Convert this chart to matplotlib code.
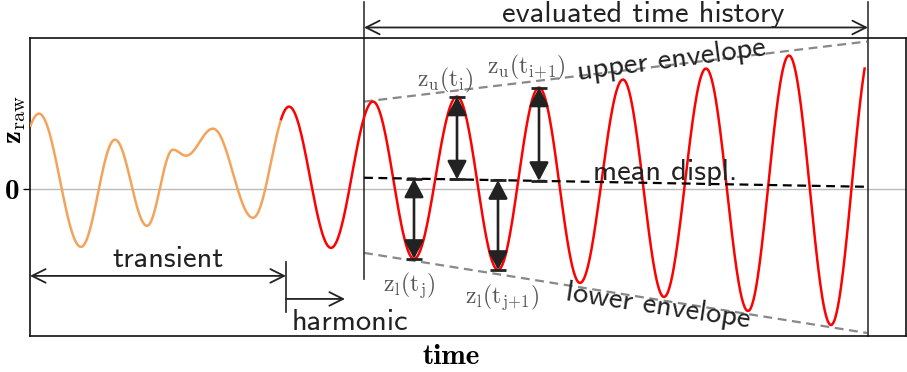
import numpy as np
import matplotlib
matplotlib.use("Agg")
import matplotlib.pyplot as plt
from matplotlib.patches import FancyArrowPatch

plt.rcParams["mathtext.fontset"] = "cm"
plt.rcParams["axes.unicode_minus"] = False

# Turning points of the raw displacement signal (time, z_raw)
peak_times = [-33, 9, 51, 85, 117, 143, 156, 183, 223,
              259, 301, 343, 384, 427, 468, 509, 550, 593, 634, 676, 718, 759, 801, 843]
peak_values = [-50, 75, -58, 49, -37, 39, 33, 60, -29,
               82, -59, 87, -70, 92, -81, 101, -94, 109, -108, 120, -122, 133, -136, 147]
t_start, t_end = 0, 835
t_harmonic = 251          # colour switch: transient -> harmonic response
t_marker = 256            # start of the "harmonic" annotation

# Evaluation window
t_eval_start, t_eval_end = 334, 838

# Envelopes and mean displacement across the evaluation window (time, value)
upper_env_t = [334, 837]
upper_env_z = [87, 147]
lower_env_t = [334, 837]
lower_env_z = [-64, -144]
mean_t = [334, 835]
mean_z = [11, 2]

# Extrema that are measured against the mean line
upper_pick_t = [427, 509]
lower_pick_t = [384, 468]
upper_pick_labels = [r"$\mathrm{z_u(t_i)}$", r"$\mathrm{z_u(t_{i\!+\!1})}$"]
lower_pick_labels = [r"$\mathrm{z_l(t_j)}$", r"$\mathrm{z_l(t_{j\!+\!1})}$"]
upper_label_pos = [(415, 108), (496, 121)]
lower_label_pos = [(379, -96), (472, -108)]


def signal(t_pts, z_pts, n=60):
    ts, zs = [], []
    for (t0, z0), (t1, z1) in zip(zip(t_pts[:-1], z_pts[:-1]), zip(t_pts[1:], z_pts[1:])):
        s = np.linspace(0, 1, n, endpoint=False)
        ts.append(t0 + (t1 - t0) * s)
        zs.append(z0 + (z1 - z0) * (1 - np.cos(np.pi * s)) / 2)
    ts.append([t_pts[-1]])
    zs.append([z_pts[-1]])
    return np.concatenate(ts), np.concatenate(zs)


t, z = signal(peak_times, peak_values)
keep = (t >= t_start) & (t <= t_end)
t, z = t[keep], z[keep]

fig = plt.figure(figsize=(9.07, 3.72), dpi=100)
W, H = 907, 372
ax = fig.add_axes([30 / W, (H - 336) / H, 876 / W, 298 / H])
ax.set_xlim(0, 876)
ax.set_ylim(-147, 150.5)
for sp in ax.spines.values():
    sp.set_linewidth(1.2)
    sp.set_color("#111111")

sans = "cmss10"
dark = "#222222"
gray_txt = "#555555"
fs_sans = 22

# zero line
ax.axhline(0, color="#bbbbbb", lw=1.0, zorder=1)

# raw signal
m1 = t <= t_harmonic
m2 = t >= t_harmonic
ax.plot(t[m1], z[m1], color="#F4A35A", lw=1.8, zorder=3)
ax.plot(t[m2], z[m2], color="#FF0000", lw=1.8, zorder=3)

# envelopes and mean displacement
ax.plot(upper_env_t, upper_env_z, color="#888888", lw=1.6, ls=(0, (4, 2.5)), zorder=2)
ax.plot(lower_env_t, lower_env_z, color="#888888", lw=1.6, ls=(0, (4, 2.5)), zorder=2)
ax.plot(mean_t, mean_z, color="black", lw=1.6, ls=(0, (4, 2.5)), zorder=4)


def mean_at(tt):
    return np.interp(tt, mean_t, mean_z)


def z_at(tt):
    return np.interp(tt, t, z)


for tt in upper_pick_t + lower_pick_t:
    z_ext = z_at(tt)
    z_m = mean_at(tt)
    arr = FancyArrowPatch((tt, z_ext), (tt, z_m),
                          arrowstyle="<|-|>,head_length=0.8,head_width=0.42",
                          mutation_scale=14, color=dark, lw=1.9,
                          shrinkA=0, shrinkB=0, zorder=5)
    ax.add_patch(arr)
    ax.plot([tt, tt], [z_ext, z_m], ls="none", marker="_", ms=11,
            mew=2.0, color=dark, zorder=6)

for (x, y), lab in zip(upper_label_pos + lower_label_pos,
                       upper_pick_labels + lower_pick_labels):
    ax.text(x, y, lab, fontsize=17, color=gray_txt, ha="center", va="center")

# evaluation window boundaries
ax.plot([t_eval_start, t_eval_start], [186, -90], color="#333333", lw=1.2, clip_on=False, zorder=2)
ax.plot([t_eval_end, t_eval_end], [186, -147], color="#333333", lw=1.2, clip_on=False, zorder=2)
ax.add_patch(FancyArrowPatch((t_eval_start, 161), (t_eval_end, 161),
                             arrowstyle="<->,head_length=0.7,head_width=0.35",
                             mutation_scale=14, color=dark, lw=1.3,
                             shrinkA=0, shrinkB=0, clip_on=False))
ax.text(613, 166, "evaluated time history", family=sans, fontsize=fs_sans,
        color=dark, ha="center", va="baseline", clip_on=False)

# transient / harmonic annotation
ax.add_patch(FancyArrowPatch((0, -87), (t_marker, -87),
                             arrowstyle="<->,head_length=0.7,head_width=0.35",
                             mutation_scale=14, color=dark, lw=1.3,
                             shrinkA=0, shrinkB=0))
ax.plot([t_marker, t_marker], [-73, -123], color=dark, lw=1.2)
ax.add_patch(FancyArrowPatch((t_marker, -110), (315, -110),
                             arrowstyle="->,head_length=0.7,head_width=0.35",
                             mutation_scale=14, color=dark, lw=1.3,
                             shrinkA=0, shrinkB=0))
ax.text(138, -78, "transient", family=sans, fontsize=fs_sans, color=dark,
        ha="center", va="baseline")
ax.text(319.5, -141, "harmonic", family=sans, fontsize=fs_sans, color=dark,
        ha="center", va="baseline")
ax.text(635, 9, "mean displ.", family=sans, fontsize=fs_sans, color=dark,
        ha="center", va="baseline", zorder=4)
ax.text(642, 121, "upper envelope", family=sans, fontsize=fs_sans, color=dark,
        ha="center", va="baseline", rotation=7.5, rotation_mode="anchor")
ax.text(627, -125, "lower envelope", family=sans, fontsize=fs_sans, color=dark,
        ha="center", va="baseline", rotation=-8.5, rotation_mode="anchor")

# axes labels and ticks
ax.set_xticks([])
ax.set_yticks([0])
ax.set_yticklabels(["0"], family="cmb10", fontsize=21)
ax.tick_params(axis="y", length=5, width=1.0, pad=3)
fig.text(21 / W, 1 - 120 / H, r"$\mathbf{z}_{\mathrm{raw}}$", fontsize=21,
         rotation=90, ha="center", va="baseline", rotation_mode="anchor")
fig.text(451 / W, 1 - 357 / H, "time", family="cmb10", fontsize=21,
         ha="center", va="center")

fig.savefig("out.png", dpi=100)
